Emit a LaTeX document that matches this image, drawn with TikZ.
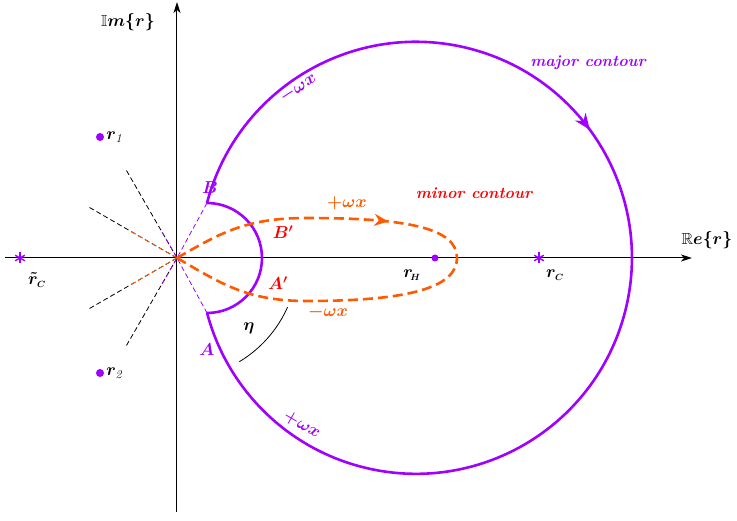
\documentclass[tikz,border=0pt]{standalone}
\usepackage{amsmath}
\usepackage{amssymb}
\usepackage{bm}
\usetikzlibrary{positioning, arrows.meta, decorations.markings}
\definecolor{majorc}{RGB}{160, 0, 255}
\definecolor{minorc}{RGB}{255, 90, 0}
\definecolor{labelred}{RGB}{255, 0, 0}

\begin{document}
\begin{tikzpicture}[
    x=1pt, y=1pt,
    axis/.style={-{Stealth[length=11pt,width=7pt,inset=3pt]}, line width=1pt},
    ray/.style={dash pattern=on 5pt off 3pt, line width=0.8pt},
    majorline/.style={majorc, line width=2.6pt},
    minorline/.style={minorc, line width=2.6pt, dash pattern=on 10pt off 5pt},
    lbl/.style={font=\fontsize{16}{19}\selectfont, inner sep=1pt},
    mlbl/.style={font=\fontsize{18}{21}\selectfont, inner sep=1pt},
    dotmark/.style={circle, fill=majorc, inner sep=0pt, minimum size=8pt},
    starmark/.style={inner sep=0pt, minimum size=10pt}
]
\useasboundingbox (-177,-263) rectangle (560,258);
% axes
\coordinate (O) at (0,0);
\coordinate (xl) at (-172,0);
\coordinate (xr) at (515,0);
\coordinate (yb) at (0,-254);
\coordinate (yt) at (0,256);
\draw[axis] (xl) -- (xr);
\draw[axis] (yb) -- (yt);
\node[lbl] (re) at (530,18) {$\bm{\mathbb{R}e\{r\}}$};
\node[lbl] (im) at (-49,236) {$\bm{\mathbb{I}m\{r\}}$};

% rays through the origin
\foreach \a in {120,150,210,240}
    \draw[ray] (O) -- (\a:102);
\draw[ray, minorc] (O) -- (150:55);
\draw[ray, minorc] (O) -- (210:55);
\coordinate (B) at (30,55);
\coordinate (A) at (30,-55);
\draw[ray, majorc] (B) -- (O) -- (240:30);
\draw[ray, majorc] (A) -- (O) -- (120:30);

% major contour
\draw[majorline, postaction={decorate}, decoration={markings, mark=at position 0.39 with {\arrow{Stealth[length=16pt,width=13pt]}}}]
    (B) arc[start angle=165.3, end angle=-165.3, radius=216];
\draw[majorline] (B) arc[start angle=90, end angle=-90, radius=55];

% minor contour
\draw[minorline, postaction={decorate}, decoration={markings, mark=at position 0.36 with {\arrow{Stealth[length=14pt,width=12pt]}}}]
    (O) .. controls (45,26) and (70,40) .. (130,40)
    .. controls (230,40) and (280,30) .. (280,0)
    .. controls (280,-30) and (230,-43) .. (130,-43)
    .. controls (70,-43) and (45,-26) .. (O);

% angle eta
\coordinate (e1) at (-24:121);
\draw[line width=0.8pt] (e1) arc[start angle=-24, end angle=-59, radius=121];
\node[mlbl] (eta) at (72,-70) {$\bm{\eta}$};

% points
\node[dotmark] (r1) at (-77,121) {};
\node[dotmark] (r2) at (-77,-115) {};
\node[dotmark, minimum size=7pt] (rh) at (258,0) {};
\node[starmark] (rc) at (362,0) {};
\node[starmark] (rct) at (-157,0) {};
\foreach \p in {rc,rct}
    \foreach \a in {30,90,150}
        \draw[majorc, line width=1.4pt] ([shift={(\a:5.5)}]\p.center) -- ([shift={(\a+180:5.5)}]\p.center);
\node[mlbl, right=1pt of r1] (r1lbl) {$\bm{r}_{\mathit{1}}$};
\node[mlbl, right=1pt of r2] (r2lbl) {$\bm{r}_{\mathit{2}}$};
\node[mlbl] (rhlbl) at (235,-17) {$\bm{r}_{\!\scriptscriptstyle\bm{H}}$};
\node[mlbl] (rclbl) at (378,-17) {$\bm{r}_{\scriptscriptstyle\bm{C}}$};
\node[mlbl] (rctlbl) at (-140,-22) {$\bm{\tilde{r}}_{\scriptscriptstyle\bm{C}}$};

% contour labels
\node[lbl, majorc] (majlbl) at (411,195) {\bfseries\itshape major contour};
\node[lbl, labelred] (minlbl) at (297,65) {\bfseries\itshape minor contour};
\node[mlbl, majorc] (Blbl) at (33,70) {$\bm{B}$};
\node[mlbl, majorc] (Albl) at (30,-92) {$\bm{A}$};
\node[mlbl, labelred] (Bplbl) at (106,26) {$\bm{B'}$};
\node[mlbl, labelred] (Aplbl) at (101,-25) {$\bm{A'}$};
\node[mlbl, minorc] (wpo) at (170,55) {$\bm{+\omega x}$};
\node[mlbl, minorc] (wmo) at (151,-54) {$\bm{-\omega x}$};
\node[mlbl, majorc, rotate=33] (wmp) at (121,170) {$\bm{-\omega x}$};
\node[mlbl, majorc, rotate=-30] (wpp) at (125,-167) {$\bm{+\omega x}$};
\end{tikzpicture}
\end{document}
